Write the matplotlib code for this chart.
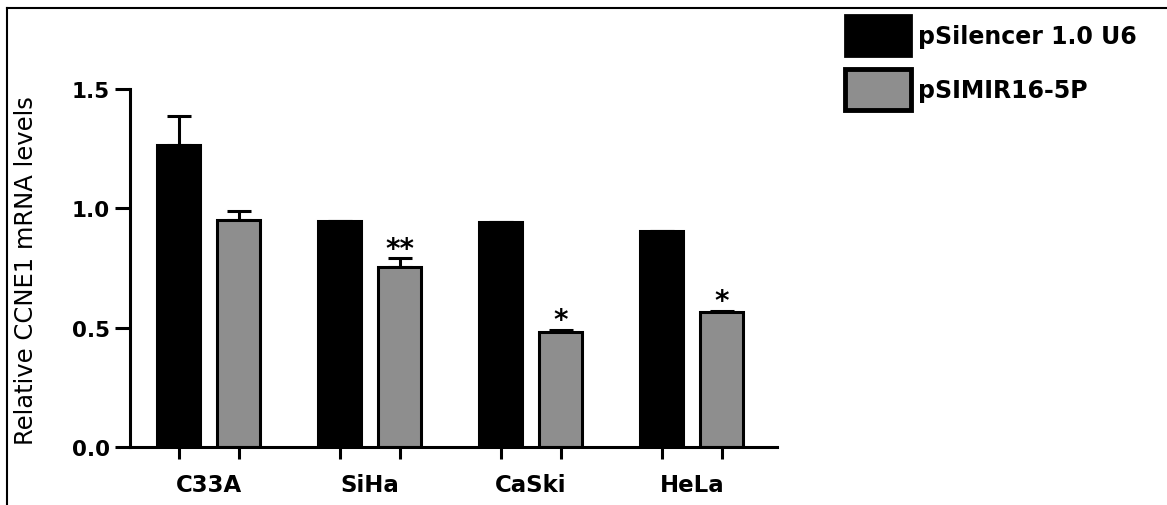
import matplotlib
matplotlib.use("Agg")
import matplotlib.pyplot as plt
import numpy as np
from matplotlib.lines import Line2D
from matplotlib.patches import Patch

# ---- data ----
categories = ["C33A", "SiHa", "CaSki", "HeLa"]
series_names = ["pSilencer 1.0 U6", "pSIMIR16-5P"]
control = [1.266, 0.946, 0.944, 0.906]
control_err = [0.119, 0.0, 0.0, 0.0]
treated = [0.951, 0.753, 0.483, 0.564]
treated_err = [0.039, 0.039, 0.008, 0.007]
significance = ["", "**", "*", "*"]
yticks = [0.0, 0.5, 1.0, 1.5]
ylabel = "Relative CCNE1 mRNA levels"

GRAY = "#8e8e8e"

fig = plt.figure(figsize=(11.67, 5.06), dpi=100)
fig.patch.set_facecolor("white")
ax = fig.add_axes([130 / 1167, 1 - 448 / 506, (777 - 130) / 1167, (448 - 90) / 506])

x = np.arange(len(categories))
off = 0.187
w = 0.267
lw = 2.2

ax.bar(x - off, control, width=w, color="black", edgecolor="black", linewidth=lw, zorder=2)
ax.bar(x + off, treated, width=w, color=GRAY, edgecolor="black", linewidth=lw, zorder=2)

ax.errorbar(x - off, control, yerr=[np.zeros(len(control)), control_err], fmt="none",
            ecolor="black", elinewidth=2.2, capsize=8.5, capthick=2.2, zorder=1)
ax.errorbar(x + off, treated, yerr=[np.zeros(len(treated)), treated_err], fmt="none",
            ecolor="black", elinewidth=2.2, capsize=8.5, capthick=2.2, zorder=1)

for xi, v, e, s in zip(x + off, treated, treated_err, significance):
    if s:
        ax.annotate(s, (xi, v + e), xytext=(0, 1.0), textcoords="offset points",
                    ha="center", va="baseline", fontsize=20, fontweight="bold",
                    family="DejaVu Sans")

ax.set_xlim(-0.49, 3.53)
ax.set_ylim(0, 1.5)
ax.set_yticks(yticks)
ax.set_yticklabels([f"{t:.1f}" for t in yticks])

# major ticks at each bar, labels at group centres via minor ticks
ax.set_xticks(np.concatenate([x - off, x + off]))
ax.set_xticklabels([])
ax.set_xticks(x, minor=True)
ax.set_xticklabels(categories, minor=True)
ax.tick_params(axis="x", which="major", direction="out", length=8.5, width=2.2)
ax.tick_params(axis="x", which="minor", length=0, pad=19)
ax.tick_params(axis="y", direction="out", length=11, width=2.2, pad=3.5)

for lab in ax.get_yticklabels():
    lab.set_fontsize(15.5)
    lab.set_fontweight("bold")
    lab.set_family("DejaVu Sans")
for lab in ax.get_xticklabels(minor=True):
    lab.set_fontsize(16.5)
    lab.set_fontweight("bold")
    lab.set_family("DejaVu Sans")

ax.set_ylabel(ylabel, fontsize=17.5, family="DejaVu Sans")
ax.yaxis.set_label_coords(-0.142, 0.497)

for sp in ["top", "right"]:
    ax.spines[sp].set_visible(False)
for sp in ["left", "bottom"]:
    ax.spines[sp].set_linewidth(2.2)

# legend
handles = [Patch(facecolor="black", edgecolor="black", linewidth=2.0),
           Patch(facecolor=GRAY, edgecolor="black", linewidth=3.5)]
leg = fig.legend(handles, series_names, loc="upper left",
                 bbox_to_anchor=(845 / 1167, 1 - 16 / 506), frameon=False,
                 borderpad=0, borderaxespad=0, handlelength=2.8, handleheight=2.28,
                 handletextpad=0.3, labelspacing=0.58,
                 prop={"family": "DejaVu Sans", "weight": "bold", "size": 17})

# outer frame lines (top and left)
fig.add_artist(Line2D([7 / 1167, 1.0], [1 - 9 / 506, 1 - 9 / 506], color="black", lw=1.5,
                      transform=fig.transFigure))
fig.add_artist(Line2D([7 / 1167, 7 / 1167], [0, 1 - 9 / 506], color="black", lw=1.5,
                      transform=fig.transFigure))

fig.savefig("out.png", dpi=100, facecolor="white")
